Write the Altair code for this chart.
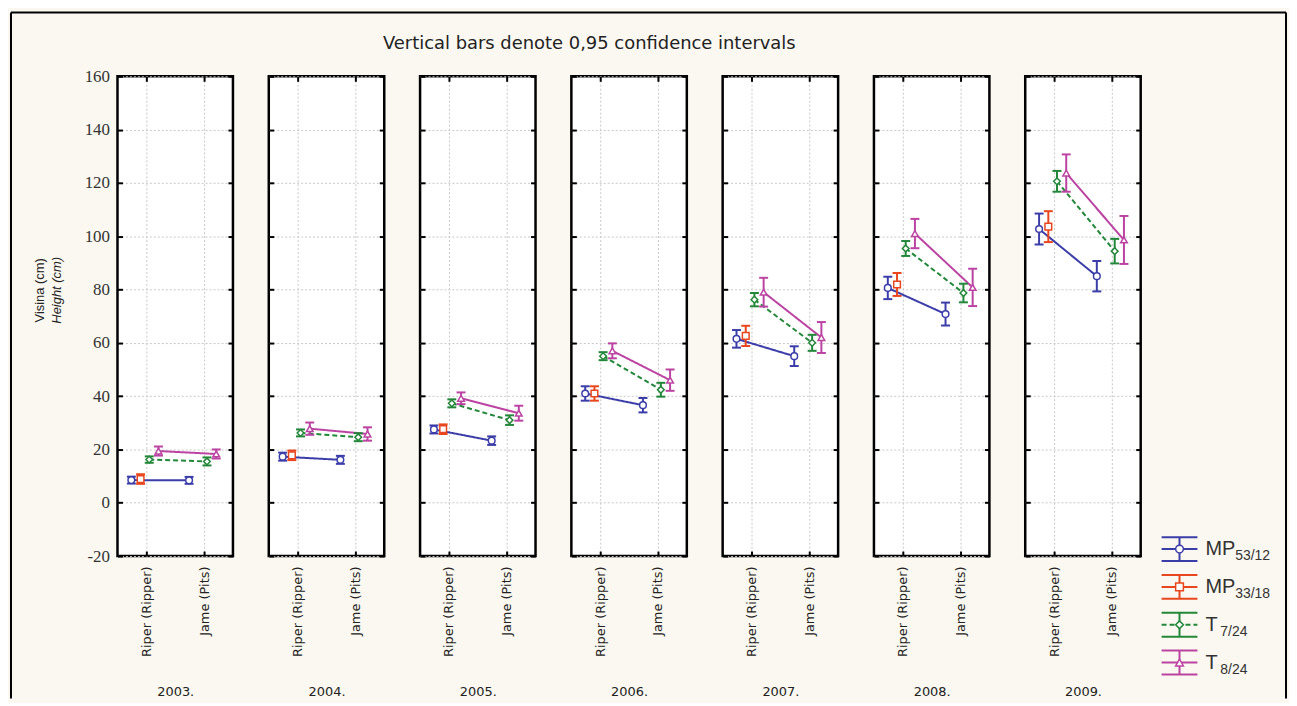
import json
import altair as alt
import pandas as pd

TITLE = "Vertical bars denote 0,95 confidence intervals"
Y_TITLE = ["Visina (cm)", "Height (cm)"]
YEARS = ["2003.", "2004.", "2005.", "2006.", "2007.", "2008.", "2009."]
CATS = ["Riper (Ripper)", "Jame (Pits)"]
SERIES = ["MP53/12", "MP33/18", "T7/24", "T8/24"]
LEG_MAIN = ["MP", "MP", "T", "T"]
LEG_SUB = ["53/12", "33/18", "7/24", "8/24"]

# means (cm) per year, Riper / Jame, and 95% CI half-widths
MP5312_RIPER = [8.5, 17.3, 27.5, 41.0, 61.5, 80.6, 102.7]
MP5312_JAME = [8.4, 16.1, 23.3, 36.6, 55.0, 70.8, 85.0]
MP5312_RIPER_CI = [1.3, 1.5, 1.5, 2.7, 3.3, 4.2, 5.8]
MP5312_JAME_CI = [1.3, 1.5, 1.6, 2.7, 3.7, 4.3, 5.7]

MP3318_RIPER = [8.9, 17.8, 27.6, 41.0, 62.6, 81.9, 103.6]
MP3318_RIPER_CI = [1.8, 1.8, 1.8, 2.7, 3.8, 4.3, 5.8]

T724_RIPER = [16.2, 26.2, 37.3, 55.0, 76.2, 95.4, 120.6]
T724_JAME = [15.5, 24.6, 31.0, 42.4, 60.0, 78.7, 94.4]
T724_RIPER_CI = [1.2, 1.3, 1.5, 1.5, 2.5, 2.8, 3.9]
T724_JAME_CI = [1.5, 1.5, 1.8, 2.6, 3.0, 3.5, 4.6]

T824_RIPER = [19.4, 27.8, 39.2, 57.0, 79.0, 101.0, 123.7]
T824_JAME = [18.3, 25.8, 33.6, 46.0, 62.0, 80.8, 98.6]
T824_RIPER_CI = [1.7, 2.3, 2.2, 2.8, 5.4, 5.5, 7.0]
T824_JAME_CI = [1.7, 2.5, 2.8, 4.0, 5.8, 7.0, 9.0]

rows = []
def add(series, cat, means, cis):
    for y, m, c in zip(YEARS, means, cis):
        rows.append({"year": y, "cat": cat, "series": series, "mean": m, "ci": c})

add(SERIES[0], CATS[0], MP5312_RIPER, MP5312_RIPER_CI)
add(SERIES[0], CATS[1], MP5312_JAME, MP5312_JAME_CI)
add(SERIES[1], CATS[0], MP3318_RIPER, MP3318_RIPER_CI)
add(SERIES[2], CATS[0], T724_RIPER, T724_RIPER_CI)
add(SERIES[2], CATS[1], T724_JAME, T724_JAME_CI)
add(SERIES[3], CATS[0], T824_RIPER, T824_RIPER_CI)
add(SERIES[3], CATS[1], T824_JAME, T824_JAME_CI)
df = pd.DataFrame(rows)

# styling
COLORS = ["#3b3da8", "#e8461e", "#23873a", "#bb44a2"]
SHAPES = ["circle", "square", "diamond", "triangle-up"]
DASHES = [[1, 0], [1, 0], [5, 3], [1, 0]]
OFFS = [-0.26, -0.10, 0.05, 0.21]  # dodge (x units)
W, H = 116, 482
BG = "#faf8f0"
FONT = "Liberation Sans"
WFONT = "DejaVu Sans"
SERIF = "Liberation Serif"

xs = alt.Scale(domain=[-0.5, 1.5], nice=False, zero=False)
ys = alt.Scale(domain=[-20, 160], nice=False, zero=False)
cs = alt.Scale(domain=SERIES, range=COLORS)
ss = alt.Scale(domain=SERIES, range=SHAPES)
ds = alt.Scale(domain=SERIES, range=DASHES)
YT = list(range(-20, 161, 20))

xpos_expr = (f"indexof({json.dumps(CATS)}, datum.cat) + "
             f"{json.dumps(OFFS)}[indexof({json.dumps(SERIES)}, datum.series)]")
label_expr = f"{json.dumps(CATS)}[datum.value]"


def panel(i):
    base = (alt.Chart(df)
            .transform_filter(alt.datum.year == YEARS[i])
            .transform_calculate(xpos=xpos_expr,
                                 lo="datum.mean - datum.ci",
                                 hi="datum.mean + datum.ci"))

    left_axis = alt.Axis(values=YT, offset=-5, tickSize=5, tickWidth=2,
                         tickColor="black", domain=False, grid=False,
                         labels=(i == 0), labelPadding=8, labelFont=SERIF,
                         labelFontSize=17, labelColor="#333",
                         labelExpr="'' + datum.value", title=None)
    bottom_axis = alt.Axis(values=[0, 1], labelExpr=label_expr, labelAngle=-90,
                           labelAlign="right", labelBaseline="middle",
                           labelPadding=10, labelFlush=False, labelOverlap=False,
                           labelFontSize=13, labelColor="#222", labelFont=WFONT,
                           offset=-5, tickSize=5, tickWidth=2, tickColor="black",
                           domain=False, grid=False, title=YEARS[i],
                           titleY=141, titleBaseline="middle",
                           titleFontWeight="normal", titleFontSize=13,
                           titleColor="#222", titleFont=WFONT)
    right_axis = alt.Axis(orient="right", values=YT, offset=-5, tickSize=5,
                          tickWidth=2, tickColor="black", domain=False,
                          grid=False, labels=False, title=None)
    top_axis = alt.Axis(orient="top", values=[0, 1], offset=-5, tickSize=5,
                        tickWidth=2, tickColor="black", domain=False,
                        grid=False, labels=False, title=None)
    ygrid = alt.Axis(values=YT, grid=True, gridColor="#c8c8c8", gridDash=[2, 2],
                     ticks=False, labels=False, domain=False, title=None)
    xgrid = alt.Axis(values=[0, 1], grid=True, gridColor="#c8c8c8", gridDash=[2, 2],
                     ticks=False, labels=False, domain=False, title=None)

    lines = base.mark_line(strokeWidth=2).encode(
        x=alt.X("xpos:Q", scale=xs, axis=bottom_axis),
        y=alt.Y("mean:Q", scale=ys, axis=left_axis),
        color=alt.Color("series:N", scale=cs, legend=None),
        strokeDash=alt.StrokeDash("series:N", scale=ds, legend=None),
        detail="series:N",
    )
    bars = base.mark_rule(strokeWidth=2).encode(
        x=alt.X("xpos:Q", scale=xs, axis=top_axis),
        y=alt.Y("lo:Q", scale=ys, axis=right_axis),
        y2="hi:Q",
        color=alt.Color("series:N", scale=cs, legend=None),
    )
    cap_lo = base.mark_tick(orient="horizontal", size=9, thickness=2, opacity=1).encode(
        x=alt.X("xpos:Q", scale=xs, axis=xgrid),
        y=alt.Y("lo:Q", scale=ys, axis=ygrid),
        color=alt.Color("series:N", scale=cs, legend=None),
    )
    cap_hi = base.mark_tick(orient="horizontal", size=9, thickness=2, opacity=1).encode(
        x=alt.X("xpos:Q", scale=xs, axis=None),
        y=alt.Y("hi:Q", scale=ys, axis=None),
        color=alt.Color("series:N", scale=cs, legend=None),
    )
    pts = base.mark_point(filled=True, fill="white", size=45, strokeWidth=1.5,
                          opacity=1).encode(
        x=alt.X("xpos:Q", scale=xs, axis=None),
        y=alt.Y("mean:Q", scale=ys, axis=None),
        stroke=alt.Stroke("series:N", scale=cs, legend=None),
        shape=alt.Shape("series:N", scale=ss, legend=None),
    )
    layers = [lines, bars, cap_lo, cap_hi, pts]

    if i == 0:
        tdf = pd.DataFrame({"t": [TITLE]})
        title = alt.Chart(tdf).mark_text(fontSize=18, font=WFONT, color="#222",
                                         align="center", baseline="middle").encode(
            x=alt.value(474), y=alt.value(-32), text="t:N")
        yt1 = alt.Chart(pd.DataFrame({"t": [Y_TITLE[0]]})).mark_text(
            fontSize=13, font=FONT, color="#222", angle=270,
            align="center", baseline="middle").encode(
            x=alt.value(-78), y=alt.value(215), text="t:N")
        yt2 = alt.Chart(pd.DataFrame({"t": [Y_TITLE[1]]})).mark_text(
            fontSize=13, font=FONT, color="#222", angle=270, fontStyle="italic",
            align="center", baseline="middle").encode(
            x=alt.value(-61), y=alt.value(215), text="t:N")
        fr_top = alt.Chart(tdf).mark_rule(strokeWidth=2, color="black").encode(
            x=alt.value(-107), x2=alt.value(1174), y=alt.value(-64))
        fr_left = alt.Chart(tdf).mark_rule(strokeWidth=2, color="black").encode(
            x=alt.value(-107), y=alt.value(-64), y2=alt.value(625))
        fr_right = alt.Chart(tdf).mark_rule(strokeWidth=2, color="black").encode(
            x=alt.value(1174), y=alt.value(-64), y2=alt.value(625))
        layers += [title, yt1, yt2, fr_top, fr_left, fr_right]

    return (alt.layer(*layers)
            .resolve_axis(x="independent", y="independent")
            .properties(width=W, height=H))


# legend
ldf = pd.DataFrame({"series": SERIES, "main": LEG_MAIN, "sub": LEG_SUB})
lb = alt.Chart(ldf).transform_calculate(
    r=f"indexof({json.dumps(SERIES)}, datum.series)",
    sx="datum.main == 'MP' ? 59 : 44")
ly = alt.Y("r:Q", scale=alt.Scale(domain=[0, 3], range=[475, 589], nice=False,
                                  zero=False), axis=None)
lcol = alt.Color("series:N", scale=cs, legend=None)
leg_layers = [
    lb.mark_rule(strokeWidth=2, yOffset=-12).encode(
        x=alt.value(-15), x2=alt.value(21), y=ly, color=lcol),
    lb.mark_rule(strokeWidth=2, yOffset=12).encode(
        x=alt.value(-15), x2=alt.value(21), y=ly, color=lcol),
    lb.mark_rule(strokeWidth=2).encode(
        x=alt.value(-15), x2=alt.value(21), y=ly, color=lcol,
        strokeDash=alt.StrokeDash("series:N", scale=ds, legend=None)),
    lb.mark_tick(orient="vertical", size=24, thickness=2, opacity=1).encode(
        x=alt.value(3), y=ly, color=lcol),
    lb.mark_point(filled=True, fill="white", size=60, strokeWidth=1.5, opacity=1).encode(
        x=alt.value(3), y=ly,
        stroke=alt.Stroke("series:N", scale=cs, legend=None),
        shape=alt.Shape("series:N", scale=ss, legend=None)),
    lb.mark_text(align="left", baseline="middle", fontSize=20, font=FONT,
                 color="#333").encode(x=alt.value(29), y=ly, text="main:N"),
    lb.mark_text(align="left", baseline="middle", fontSize=14, font=FONT,
                 color="#333", dy=7).encode(
        x=alt.X("sx:Q", scale=None, axis=None), y=ly, text="sub:N"),
]
legend = alt.layer(*leg_layers).properties(
    width=90, height=H,
    view=alt.ViewBackground(stroke="transparent", fill="transparent"))

chart = (alt.hconcat(*[panel(i) for i in range(len(YEARS))], legend,
                     spacing=36, bounds="flush")
         .properties(padding=0, background=BG)
         .configure(font=FONT,
                    view=alt.ViewConfig(stroke="black", strokeWidth=2.5,
                                        fill="white"),
                    axisLeft=alt.AxisConfig(labelFont=SERIF, labelFontSize=17,
                                            labelColor="#333")))

chart.save("out.html", embed_options={"renderer": "svg", "actions": False})
